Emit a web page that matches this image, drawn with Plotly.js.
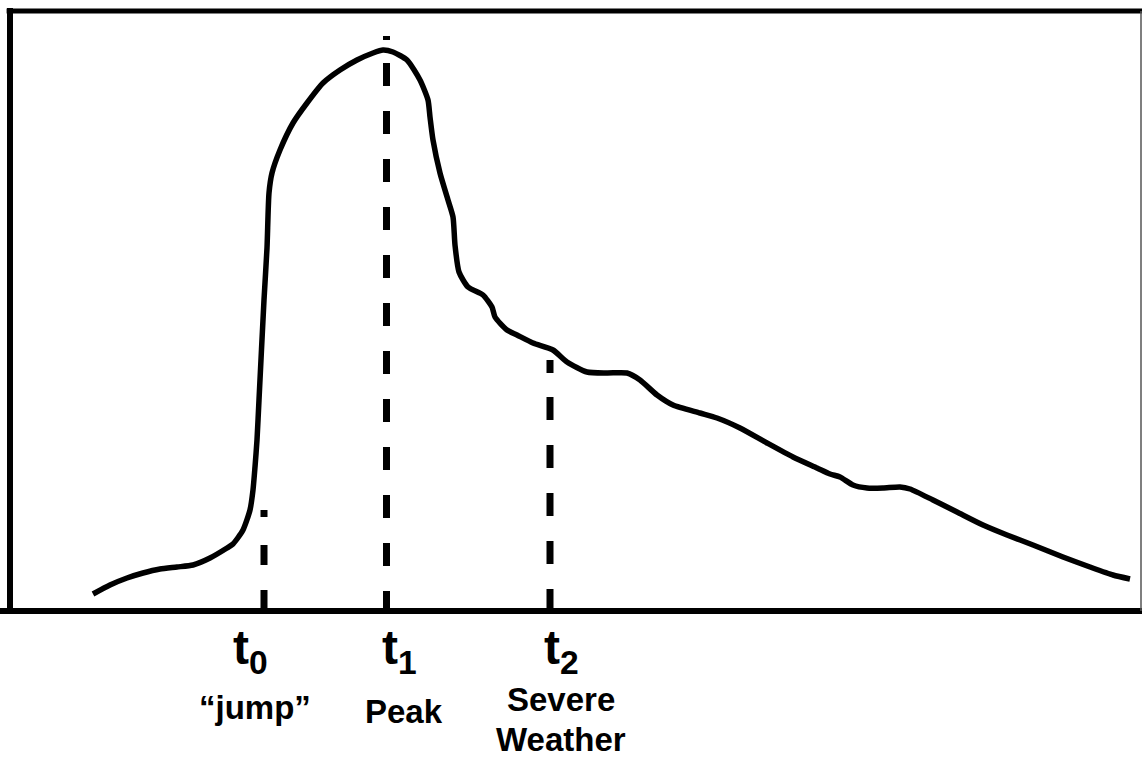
<!DOCTYPE html>
<html>
<head>
<meta charset="utf-8">
<script src="https://cdn.plot.ly/plotly-3.0.1.min.js"></script>
<style>
  html, body { margin: 0; padding: 0; background: #ffffff; }
  #chart { width: 1142px; height: 757px; }
</style>
</head>
<body>
<div id="chart"></div>
<script>
// Curve: time (arbitrary units) and signal level (arbitrary units above baseline)
const curveTime = [83, 100, 117, 133, 150, 167, 183, 200, 217, 223, 233, 240, 243, 245, 247,
  249, 254, 257, 259, 262, 270, 283, 297, 313, 330, 347, 363, 373, 383, 397, 410, 418, 420,
  423, 430, 438, 443, 445, 449, 458, 473, 482, 485, 497, 507, 523, 543, 557, 577, 597, 617,
  630, 647, 663, 690, 707, 730, 757, 783, 807, 820, 830, 843, 857, 873, 890, 900, 923, 947,
  973, 997, 1023, 1053, 1080, 1103, 1120];
const curveLevel = [17, 26, 33, 38, 42, 44, 46, 53, 63, 67, 81, 101, 121, 144, 171,
  211, 311, 363, 418, 438, 461, 488, 508, 528, 541, 551, 558, 561, 559, 551, 531, 511, 494,
  471, 438, 411, 394, 366, 339, 324, 316, 304, 294, 281, 276, 268, 261, 249, 239, 238, 238,
  231, 216, 206, 198, 193, 183, 168, 154, 143, 137, 134, 126, 123, 123, 124, 122, 111, 99,
  86, 76, 66, 54, 44, 36, 32];

// Marked times t0, t1, t2 and the top end of each dashed marker
const eventTime = [254, 376.5, 540];
const eventTop = [101, 575, 251];
const eventTicks = ["t<sub>0</sub>", "t<sub>1</sub>", "t<sub>2</sub>"];
const eventNames = [["\u201cjump\u201d"], ["Peak"], ["Severe", "Weather"]];

// styling (not data)
const dashStyles = [
  "7px,28px,20px,25px,23px",
  "4px,23px,23px,25px,23px,25px,23px,25px,23px,25px,23px,25px,23px,25px,23px,25px,23px,25px,23px,25px,23px,25px,23px,25px,23px,25px",
  "13px,24px,23px,25px,23px,25px,23px,25px,23px,25px,23px,25px"
];
const tickShift = [-14, 12.5, 11];
const nameShift = [-9, 17.5, 11];
const nameMid = [[707], [711], [699, 739]];

const traces = [{
  x: curveTime, y: curveLevel, type: 'scatter', mode: 'lines',
  line: {color: '#000', width: 5.5, shape: 'spline', smoothing: 0.6},
  hoverinfo: 'skip', cliponaxis: false
}];
eventTime.forEach((t, i) => {
  traces.push({
    x: [t, t], y: [eventTop[i], 0], type: 'scatter', mode: 'lines',
    line: {color: '#000', width: 7, dash: dashStyles[i]},
    hoverinfo: 'skip', cliponaxis: false
  });
});

const H = 600;
const pyToPaper = py => (611 - py) / H;

const annotations = [];
eventTime.forEach((t, i) => {
  annotations.push({
    x: t, xref: 'x', y: pyToPaper(651), yref: 'paper',
    xanchor: 'center', yanchor: 'middle', xshift: tickShift[i], borderpad: 0,
    text: eventTicks[i], showarrow: false,
    font: {family: 'Liberation Sans, Arial, sans-serif', size: 48, color: '#000', weight: 'bold'}
  });
});
eventTime.forEach((t, i) => {
  eventNames[i].forEach((line, j) => {
    annotations.push({
      x: t, xref: 'x', y: pyToPaper(nameMid[i][j]), yref: 'paper',
      xanchor: 'center', yanchor: 'middle', xshift: nameShift[i], borderpad: 0,
      text: line, showarrow: false,
      font: {family: 'Liberation Sans, Arial, sans-serif', size: 33, color: '#000', weight: 'bold'}
    });
  });
});

const shapes = [
  {type: 'line', xref: 'paper', yref: 'paper', x0: 0, x1: 0, y0: -0.005, y1: 1.005, line: {color: '#000', width: 6}},
  {type: 'line', xref: 'paper', yref: 'paper', x0: -0.003, x1: 1.001, y0: 1, y1: 1, line: {color: '#000', width: 5}},
  {type: 'line', xref: 'paper', yref: 'paper', x0: -0.009, x1: 1.001, y0: 0, y1: 0, line: {color: '#000', width: 6}},
  {type: 'line', xref: 'paper', yref: 'paper', x0: 1, x1: 1, y0: 0, y1: 1, line: {color: '#555', width: 1.5}}
];

const layout = {
  width: 1142, height: 757,
  margin: {l: 10, r: 1, t: 11, b: 146, pad: 0},
  paper_bgcolor: '#fff', plot_bgcolor: '#fff',
  showlegend: false,
  xaxis: {range: [0, 1131], visible: false, fixedrange: true},
  yaxis: {range: [0, 600], visible: false, fixedrange: true},
  annotations: annotations,
  shapes: shapes
};

Plotly.newPlot('chart', traces, layout, {displayModeBar: false, staticPlot: true});
</script>
</body>
</html>
